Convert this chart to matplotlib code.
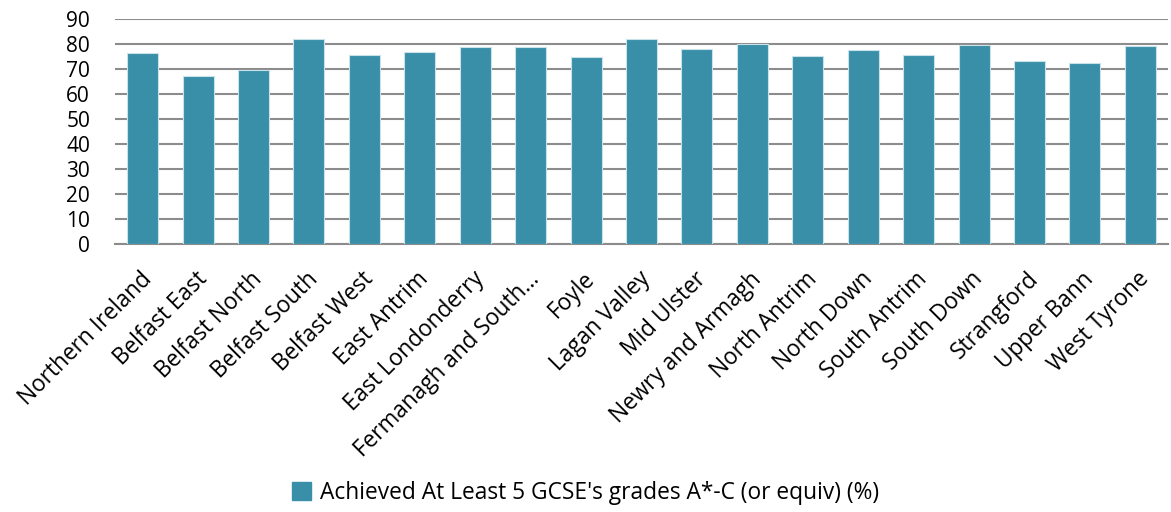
import matplotlib
matplotlib.use("Agg")
import matplotlib.pyplot as plt
from matplotlib.patches import Patch
from matplotlib.transforms import ScaledTranslation

categories = ["Northern Ireland", "Belfast East", "Belfast North", "Belfast South",
              "Belfast West", "East Antrim", "East Londonderry", "Fermanagh and South\u2026",
              "Foyle", "Lagan Valley", "Mid Ulster", "Newry and Armagh", "North Antrim",
              "North Down", "South Antrim", "South Down", "Strangford", "Upper Bann",
              "West Tyrone"]
values = [76.3, 67.1, 69.5, 81.8, 75.5, 76.6, 78.6, 78.9, 74.6, 82.0, 78.1, 79.9,
          75.1, 77.4, 75.5, 79.4, 73.3, 72.3, 79.1]
series_name = "Achieved At Least 5 GCSE's grades A*-C (or equiv) (%)"
yticks = list(range(0, 100, 10))

plt.rcParams['font.family'] = ['Open Sans', 'DejaVu Sans']
color = "#3A8FA8"

fig = plt.figure(figsize=(11.71, 5.12), dpi=100)
ax = fig.add_axes([115/1171, 1 - 243.5/512, (1168-115)/1171, (243.5-19)/512])

x = list(range(len(categories)))
ax.bar(x, values, width=0.56, color=color, edgecolor="#C9E2EA", linewidth=0.8, zorder=3)

ax.set_xlim(-0.5, len(categories) - 0.5)
ax.set_ylim(0, 90)
ax.set_yticks(yticks)
ax.set_yticklabels([str(t) for t in yticks], fontsize=15)
ax.yaxis.grid(True, color="#8C8C8C", linewidth=1.5, zorder=0)
ax.set_axisbelow(True)
for s in ["left", "right", "top"]:
    ax.spines[s].set_visible(False)
ax.spines["bottom"].set_color("#8C8C8C")
ax.spines["bottom"].set_linewidth(1.5)
ax.tick_params(axis="y", length=0, pad=18)
ax.tick_params(axis="x", length=0, pad=17)
ax.set_xticks(x)
ax.set_xticklabels(categories, rotation=45, ha="right", rotation_mode="anchor", fontsize=16.3)
shift = ScaledTranslation(-3/100, 0, fig.dpi_scale_trans)
for lbl in ax.get_xticklabels():
    lbl.set_transform(lbl.get_transform() + shift)

handle = Patch(facecolor=color, edgecolor=color)
fig.legend([handle], [series_name], loc="center", bbox_to_anchor=(0.5, 1 - 493/512),
           frameon=False, fontsize=16.4, handlelength=0.85, handleheight=0.85, handletextpad=0.4)

fig.savefig("out.png", dpi=100)
